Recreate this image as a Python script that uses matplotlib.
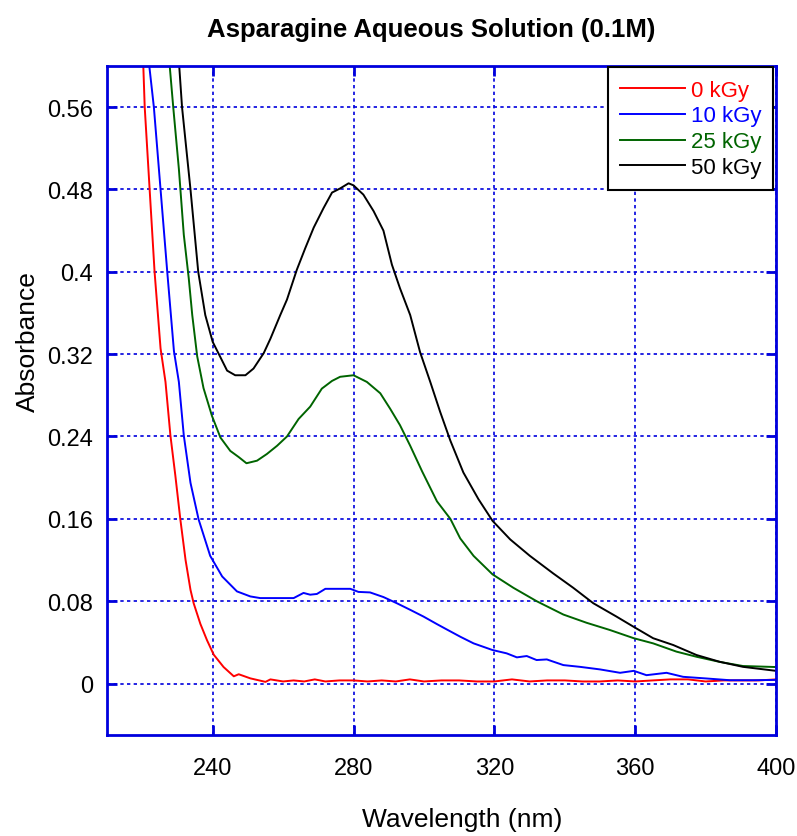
import numpy as np
import matplotlib
matplotlib.use('Agg')
import matplotlib.pyplot as plt
from matplotlib.ticker import FuncFormatter

plt.rcParams['font.family'] = ['Liberation Sans', 'DejaVu Sans']

# ── data ──
red_x = [219.9, 220.3, 220.7, 222.1, 223.5, 225.2, 226.6, 228.0, 229.4, 230.8, 232.3, 233.7,
         234.6, 236.5, 238.4, 240.3, 243.1, 246.0, 247.4, 250.7, 255.0, 256.4, 260, 263, 266,
         269, 272, 276, 280, 284, 288, 292, 296, 300, 305, 310, 315, 320, 325, 330, 335, 340,
         345, 350, 355, 360, 365, 370, 375, 380, 385, 390, 395, 400]
red_y = [0.62, 0.60, 0.56, 0.48, 0.40, 0.3256, 0.293, 0.241, 0.202, 0.160, 0.120, 0.091,
         0.078, 0.058, 0.042, 0.028, 0.016, 0.007, 0.009, 0.005, 0.0016, 0.004, 0.002, 0.003, 0.002,
         0.004, 0.002, 0.003, 0.003, 0.002, 0.003, 0.002, 0.004, 0.002, 0.003, 0.003, 0.002, 0.002,
         0.004, 0.002, 0.003, 0.003, 0.002, 0.002, 0.003, 0.002, 0.003, 0.004, 0.004, 0.002, 0.003,
         0.003, 0.003, 0.004]

blue_x = [221.8, 222.0, 223.3, 225.2, 227.1, 229.0, 230.4, 231.8, 233.7, 236.0, 239.3, 242.7,
          246.9, 250.7, 253.5, 263.0, 265.8, 267.7, 269.6, 272.0, 279.1, 281.4, 284.7, 288.5,
          292.3, 296.1, 299.9, 303.7, 306.5, 310.3, 314.1, 319.5, 323.5, 326.4, 329.2, 332.0,
          334.9, 339.6, 344.3, 350.0, 355.7, 359.6, 363.2, 368.9, 373.6, 380.2, 386.9, 393.5, 400]
blue_y = [0.62, 0.60, 0.56, 0.48, 0.40, 0.323, 0.293, 0.241, 0.195, 0.1595, 0.124, 0.104,
          0.0895, 0.0846, 0.083, 0.083, 0.088, 0.0863, 0.087, 0.092, 0.092, 0.089, 0.0885, 0.084,
          0.078, 0.0716, 0.065, 0.0577, 0.0525, 0.0455, 0.039, 0.0325, 0.0293, 0.0254, 0.0267, 0.0228,
          0.0234, 0.0179, 0.0162, 0.0137, 0.0104, 0.0123, 0.0081, 0.0104, 0.0065, 0.0049, 0.0032,
          0.0032, 0.0035]

green_x = [227.5, 227.8, 228.8, 230.4, 231.8, 233.2, 234.2, 235.6, 237.4, 239.8, 242.2, 245.0,
           247.4, 249.6, 252.6, 255.4, 258.3, 261.1, 264.4, 267.7, 271.0, 273.9, 276.2, 280.0,
           283.8, 287.6, 290.4, 293.2, 296.1, 299.5, 303.7, 307.5, 310.3, 314.1, 319.5, 325.4,
           332.0, 339.6, 346.2, 352.8, 359.6, 365.1, 371.7, 377.4, 384.0, 390.6, 400]
green_y = [0.62, 0.60, 0.56, 0.50, 0.436, 0.394, 0.358, 0.318, 0.287, 0.260, 0.239, 0.226,
           0.220, 0.214, 0.2165, 0.223, 0.231, 0.240, 0.257, 0.269, 0.2865, 0.294, 0.298, 0.2995,
           0.293, 0.282, 0.267, 0.251, 0.231, 0.206, 0.177, 0.160, 0.141, 0.124, 0.106, 0.093,
           0.080, 0.067, 0.059, 0.052, 0.044, 0.039, 0.031, 0.026, 0.021, 0.017, 0.016]

black_x = [230.2, 230.5, 231.3, 233.7, 235.9, 237.9, 240.0, 242.2, 244.1, 246.4, 249.3, 251.6,
           254.5, 256.4, 259.2, 261.1, 263.9, 266.3, 268.7, 271.5, 273.9, 276.2, 278.6, 280.0,
           282.8, 285.7, 288.5, 290.9, 293.2, 296.1, 298.9, 301.8, 304.6, 307.5, 311.2, 315.5,
           319.5, 324.5, 330.1, 336.7, 342.4, 348.1, 354.7, 359.6, 365.1, 370.8, 377.4, 384.0,
           390.6, 400]
black_y = [0.62, 0.60, 0.56, 0.480, 0.400, 0.358, 0.332, 0.317, 0.304, 0.2995, 0.2995, 0.306,
           0.321, 0.335, 0.358, 0.373, 0.402, 0.423, 0.443, 0.462, 0.477, 0.481, 0.486, 0.484,
           0.475, 0.459, 0.440, 0.407, 0.384, 0.358, 0.322, 0.293, 0.264, 0.236, 0.205, 0.179,
           0.158, 0.140, 0.124, 0.107, 0.093, 0.078, 0.065, 0.055, 0.044, 0.0374, 0.0277, 0.0211,
           0.0162, 0.0123]

series = [('0 kGy', red_x, red_y, '#ff0000'),
          ('10 kGy', blue_x, blue_y, '#0000ff'),
          ('25 kGy', green_x, green_y, '#006400'),
          ('50 kGy', black_x, black_y, '#000000')]
x_ticks = [240, 280, 320, 360, 400]
y_ticks = [0, 0.08, 0.16, 0.24, 0.32, 0.40, 0.48, 0.56]

AX = '#0000dd'
fig = plt.figure(figsize=(7.97, 8.37), dpi=100)
ax = fig.add_axes([0.1343, 0.1207, 0.8394, 0.7993])

for lab, xs, ys, c in series:
    ax.plot(xs, ys, color=c, lw=1.4, label=lab)

ax.set_xlim(210, 400); ax.set_ylim(-0.05, 0.6)
ax.set_xticks(x_ticks); ax.set_yticks(y_ticks)
ax.yaxis.set_major_formatter(FuncFormatter(lambda v, p: f'{v:g}'))
ax.grid(True, color=AX, ls=(0, (2, 2)), lw=1.2)
for s in ax.spines.values():
    s.set_color(AX); s.set_linewidth(2)
ax.tick_params(direction='in', length=7, width=2, color=AX, labelsize=17,
               top=True, right=True)
ax.tick_params(axis='x', pad=16)
ax.tick_params(axis='y', pad=10)

ax.set_xlabel('Wavelength (nm)', fontsize=19)
ax.xaxis.set_label_coords(0.531, -0.1256)
ax.xaxis.label.set_va('center')
ax.set_ylabel('Absorbance', fontsize=19)
ax.yaxis.set_label_coords(-0.118, 0.589)
ax.yaxis.label.set_va('center')

fig.text(0.541, 0.964, 'Asparagine Aqueous Solution (0.1M)', fontsize=18.5,
         fontweight='bold', ha='center', va='center')

leg = ax.legend(loc='upper right', bbox_to_anchor=(0.996, 0.998), fontsize=16,
                frameon=True, fancybox=False, framealpha=1, handlelength=2.9,
                handletextpad=0.27, borderpad=0.55, labelspacing=0.22, borderaxespad=0)
leg.get_frame().set_edgecolor('black'); leg.get_frame().set_linewidth(1.5)
for t, (_, _, _, c) in zip(leg.get_texts(), series):
    t.set_color(c)

fig.savefig('out.png', dpi=100)
